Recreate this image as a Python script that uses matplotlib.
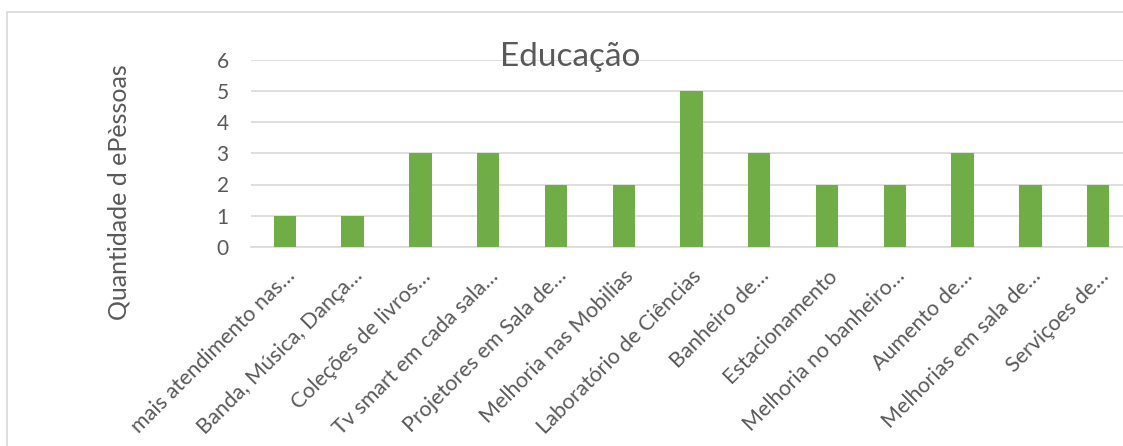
"""Educação -- quantidade de pessoas por sugestão (bar chart, Excel style)."""

import matplotlib

matplotlib.use("Agg")
import matplotlib.pyplot as plt
from matplotlib.patches import Rectangle
from matplotlib.transforms import ScaledTranslation

plt.rcParams["font.family"] = ["Lato", "DejaVu Sans"]

categories = [
    "mais atendimento nas…",
    "Banda, Música, Dança…",
    "Coleções de livros…",
    "Tv smart em cada sala…",
    "Projetores em Sala de…",
    "Melhoria nas Mobilias",
    "Laboratório de Ciências",
    "Banheiro de…",
    "Estacionamento",
    "Melhoria no banheiro…",
    "Aumento de…",
    "Melhorias em sala de…",
    "Serviçoes de…",
]
counts = [1, 1, 3, 3, 2, 2, 5, 3, 2, 2, 3, 2, 2]
y_ticks = [0, 1, 2, 3, 4, 5, 6]

TEXT = "#595959"
GRID = "#D9D9D9"
GREEN = "#70AD47"

fig = plt.figure(figsize=(11.23, 4.46), dpi=100)
fig.patches.append(Rectangle((7 / 1123, -0.1), 1.2, (446 - 12) / 446 + 0.1,
                             transform=fig.transFigure, fill=False,
                             edgecolor=GRID, linewidth=1.2))

# plot area runs past the right edge, like the cropped original
ax = fig.add_axes([251 / 1123, 199 / 446, 881 / 1123, 187.5 / 446])
x = range(len(categories))
ax.bar(x, counts, width=0.33, color=GREEN, zorder=3)

ax.set_xlim(-0.5, len(categories) - 0.5)
ax.set_ylim(0, 6)
ax.set_yticks(y_ticks)
ax.yaxis.grid(True, color=GRID, linewidth=1.2, zorder=0)
for s in ["top", "right", "left"]:
    ax.spines[s].set_visible(False)
ax.spines["bottom"].set_color(GRID)
ax.spines["bottom"].set_linewidth(1.2)
ax.tick_params(length=0, colors=TEXT, labelsize=15)
ax.tick_params(axis="y", pad=16)

ax.set_xticks(list(x))
ax.set_xticklabels(categories, rotation=45, ha="right", rotation_mode="anchor",
                   fontsize=15.5, color=TEXT)
offset = ScaledTranslation(0.0, -0.14, fig.dpi_scale_trans)
for lbl in ax.get_xticklabels():
    lbl.set_transform(lbl.get_transform() + offset)

ax.set_ylabel("Quantidade d ePèssoas", fontsize=18, color=TEXT, labelpad=0)
ax.yaxis.set_label_coords(-0.137, 0.293)

fig.text(570 / 1123, 1 - 57 / 446, "Educação", ha="center", va="center",
         fontsize=24, color=TEXT)

fig.savefig("out.png", dpi=100)
plt.close(fig)
